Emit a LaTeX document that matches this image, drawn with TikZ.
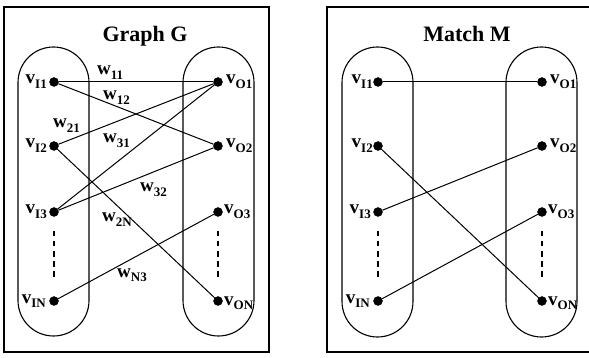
\documentclass[tikz,border=0pt]{standalone}
\usepackage{fontspec}
\setmainfont{Liberation Serif}
\newcommand{\vlab}[2]{{\fontsize{19}{19}\selectfont\bfseries #1}\raisebox{-4.5pt}{\fontsize{13}{13}\selectfont\bfseries #2}}
\begin{document}
\begin{tikzpicture}[x=1pt,y=-1pt,
  dot/.style={circle,fill=black,draw=black,inner sep=0pt,minimum size=9pt},
  frame/.style={draw=black,line width=1.2pt},
  capsule/.style={draw=black,line width=1.1pt,rounded corners=35.5pt},
  edge/.style={draw=black,line width=1pt},
  dots/.style={draw=black,line width=1.4pt,dash pattern=on 5.5pt off 4.5pt},
  lab/.style={inner sep=0pt},
  ttl/.style={inner sep=0pt,font=\fontsize{22}{22}\selectfont\bfseries}]
\useasboundingbox (0,0) rectangle (589,358);
\clip (0,0) rectangle (589,358);
% ---------- Graph G ----------
\draw[frame] (4,7) rectangle (269,352);
\node[ttl,anchor=base] (tG) at (145,42) {Graph G};
\draw[capsule] (18,47) rectangle (89,336);
\draw[capsule] (183,47) rectangle (254,336);
\node[dot] (gi1) at (54,82) {};
\node[dot] (gi2) at (54,146) {};
\node[dot] (gi3) at (54,212) {};
\node[dot] (gin) at (54,301) {};
\node[dot] (go1) at (218,82) {};
\node[dot] (go2) at (218,146) {};
\node[dot] (go3) at (218,212) {};
\node[dot] (gon) at (218,301) {};
\coordinate (gda) at (54,231); \coordinate (gdb) at (54,279);
\coordinate (gdc) at (218,231); \coordinate (gdd) at (218,279);
\draw[dots] (gda) -- (gdb);
\draw[dots] (gdc) -- (gdd);
\draw[edge] (gi1) -- (go1);
\draw[edge] (gi1) -- (go2);
\draw[edge] (gi2) -- (go1);
\draw[edge] (gi2) -- (gon);
\draw[edge] (gi3) -- (go1);
\draw[edge] (gi3) -- (go2);
\draw[edge] (gin) -- (go3);
\node[lab,anchor=base east] (lgi1) at (47,84) {\vlab{v}{I1}};
\node[lab,anchor=base east] (lgi2) at (47,148) {\vlab{v}{I2}};
\node[lab,anchor=base east] (lgi3) at (47,214) {\vlab{v}{I3}};
\node[lab,anchor=base east] (lgin) at (46,303) {\vlab{v}{IN}};
\node[lab,anchor=base west] (lgo1) at (226,84) {\vlab{v}{O1}};
\node[lab,anchor=base west] (lgo2) at (226,148) {\vlab{v}{O2}};
\node[lab,anchor=base west] (lgo3) at (224,214) {\vlab{v}{O3}};
\node[lab,anchor=base west] (lgon) at (224,305) {\vlab{v}{ON}};
\node[lab,anchor=base west] (w11) at (97,75) {\vlab{w}{11}};
\node[lab,anchor=base west] (w12) at (103,100) {\vlab{w}{12}};
\node[lab,anchor=base west] (w21) at (53,128) {\vlab{w}{21}};
\node[lab,anchor=base west] (w31) at (103,143) {\vlab{w}{31}};
\node[lab,anchor=base west] (w32) at (140,192) {\vlab{w}{32}};
\node[lab,anchor=base west] (w2N) at (102,222) {\vlab{w}{2N}};
\node[lab,anchor=base west] (wN3) at (117,277) {\vlab{w}{N3}};
% ---------- Match M ----------
\draw[frame] (327,7) rectangle (600,352);
\node[ttl,anchor=base] (tM) at (467,42) {Match M};
\draw[capsule] (342,47) rectangle (413,337);
\draw[capsule] (506,47) rectangle (577,337);
\node[dot] (mi1) at (378,82) {};
\node[dot] (mi2) at (378,146) {};
\node[dot] (mi3) at (378,212) {};
\node[dot] (min) at (378,301) {};
\node[dot] (mo1) at (542,82) {};
\node[dot] (mo2) at (542,146) {};
\node[dot] (mo3) at (542,212) {};
\node[dot] (mon) at (542,301) {};
\coordinate (mda) at (378,231); \coordinate (mdb) at (378,279);
\coordinate (mdc) at (542,231); \coordinate (mdd) at (542,279);
\draw[dots] (mda) -- (mdb);
\draw[dots] (mdc) -- (mdd);
\draw[edge] (mi1) -- (mo1);
\draw[edge] (mi2) -- (mon);
\draw[edge] (mi3) -- (mo2);
\draw[edge] (min) -- (mo3);
\node[lab,anchor=base east] (lmi1) at (373,84) {\vlab{v}{I1}};
\node[lab,anchor=base east] (lmi2) at (373,148) {\vlab{v}{I2}};
\node[lab,anchor=base east] (lmi3) at (371,214) {\vlab{v}{I3}};
\node[lab,anchor=base east] (lmin) at (370,303) {\vlab{v}{IN}};
\node[lab,anchor=base west] (lmo1) at (550,84) {\vlab{v}{O1}};
\node[lab,anchor=base west] (lmo2) at (550,148) {\vlab{v}{O2}};
\node[lab,anchor=base west] (lmo3) at (548,214) {\vlab{v}{O3}};
\node[lab,anchor=base west] (lmon) at (548,305) {\vlab{v}{ON}};
\end{tikzpicture}
\end{document}
